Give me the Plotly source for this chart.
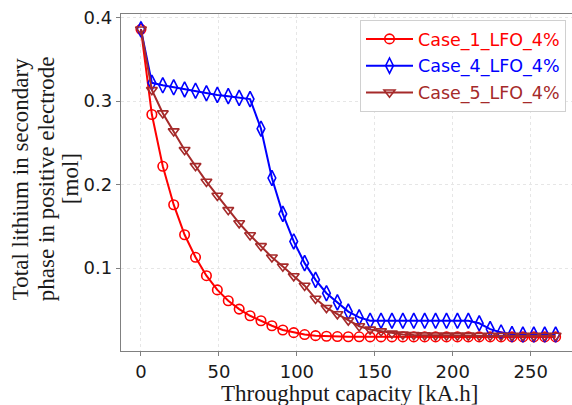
import plotly.graph_objects as go

# Throughput capacity [kA.h]
throughput = [0, 7, 14, 21, 28, 35, 42, 49, 56, 63, 70, 77, 84, 91, 98, 105,
              112, 119, 126, 133, 140, 147, 154, 161, 168, 175, 182, 189, 196,
              203, 210, 217, 224, 231, 238, 245, 252, 259, 266]

# Total lithium in secondary phase [mol]
case_1 = [0.386, 0.284, 0.222, 0.176, 0.140, 0.113, 0.091, 0.074, 0.061, 0.051,
          0.043, 0.037, 0.031, 0.026, 0.0228, 0.0205, 0.0192, 0.0185, 0.0181,
          0.0179, 0.0178, 0.0177, 0.0177, 0.0177, 0.0177, 0.0177, 0.0177,
          0.0177, 0.0177, 0.0177, 0.0177, 0.0177, 0.0177, 0.0177, 0.0177,
          0.0177, 0.0177, 0.0177, 0.0177]
case_4 = [0.386, 0.322, 0.319, 0.3166, 0.314, 0.3125, 0.3095, 0.3075, 0.306,
          0.304, 0.3025, 0.267, 0.208, 0.165, 0.132, 0.106, 0.086, 0.070, 0.059,
          0.048, 0.041, 0.037, 0.037, 0.037, 0.037, 0.037, 0.037, 0.037, 0.037,
          0.037, 0.037, 0.034, 0.027, 0.023, 0.021, 0.0205, 0.0205, 0.0205,
          0.0205]
case_5 = [0.386, 0.3134, 0.2855, 0.264, 0.2416, 0.2224, 0.2036, 0.1868, 0.1697,
          0.154, 0.1395, 0.1265, 0.113, 0.102, 0.0905, 0.079, 0.0635, 0.0525,
          0.045, 0.0375, 0.0305, 0.0265, 0.0245, 0.0218, 0.0205, 0.0200, 0.0197,
          0.0195, 0.0194, 0.0193, 0.0193, 0.0192, 0.0192, 0.0192, 0.0192,
          0.0192, 0.0192, 0.0192, 0.0192]

series_names = ["Case_1_LFO_4%", "Case_4_LFO_4%", "Case_5_LFO_4%"]
series_values = [case_1, case_4, case_5]
series_colors = ["#ff0000", "#0000ff", "#a52a2a"]
series_symbols = ["circle-open", "diamond-tall-open", "triangle-down-open"]
series_sizes = [9.5, 11, 9.5]

x_ticks = [0, 50, 100, 150, 200, 250]
y_ticks = [0.1, 0.2, 0.3, 0.4]

fig = go.Figure()
for name, vals, col, sym, sz in zip(series_names, series_values, series_colors,
                                    series_symbols, series_sizes):
    fig.add_trace(go.Scatter(
        x=throughput, y=vals, mode="lines+markers",
        name=f"<span style='color:{col}'>{name}</span>",
        legendgroup=name,
        line=dict(color=col, width=2),
        marker=dict(symbol=sym, size=sz, color=col, line=dict(width=1.6, color=col)),
    ))

axis_line = "#808080"
tick_font = dict(family="DejaVu Sans", size=18, color="#1a1a1a")
title_font = dict(family="Liberation Serif", size=23, color="#1a1a1a")

# Plot area in pixels
L, T, W, H = 121, 14, 451, 337

fig.update_layout(
    width=572, height=405,
    margin=dict(l=L, r=0, t=T, b=405 - T - H),
    paper_bgcolor="white", plot_bgcolor="white",
    showlegend=True,
    legend=dict(
        x=(360 - L) / W, y=1 - (20 - T) / H, xanchor="left", yanchor="top",
        bgcolor="white", bordercolor="#d0d0d0", borderwidth=1,
        font=dict(family="DejaVu Sans", size=17.5),
        tracegroupgap=1, itemwidth=47,
    ),
    xaxis=dict(
        range=[-12.8, 276.5], tickvals=x_ticks,
        showline=True, linecolor=axis_line, linewidth=1.3, mirror=True,
        ticks="outside", ticklen=4, tickcolor=axis_line,
        showgrid=True, gridcolor="#e6e6e6", griddash="dot", gridwidth=1,
        zeroline=False, tickfont=tick_font,
    ),
    yaxis=dict(
        range=[0.0008, 0.4044], tickvals=y_ticks, ticktext=["0.1", "0.2", "0.3", "0.4"],
        showline=True, linecolor=axis_line, linewidth=1.3, mirror=False,
        ticks="outside", ticklen=4, tickcolor=axis_line,
        showgrid=True, gridcolor="#e6e6e6", griddash="dot", gridwidth=1,
        zeroline=False, tickfont=tick_font,
    ),
)

# x-axis title
fig.add_annotation(
    text="Throughput capacity [kA.h]", showarrow=False,
    xref="paper", yref="paper", x=(349 - L) / W, y=-(393 - T - H) / H,
    xanchor="center", yanchor="middle", font=title_font,
)

# Three-line rotated y-axis title
y_title_lines = ["Total lithium in secondary", "phase in positive electrode", "[mol]"]
y_title_px = [20, 46, 70]
for text, px in zip(y_title_lines, y_title_px):
    fig.add_annotation(
        text=text, textangle=-90, showarrow=False,
        xref="paper", yref="paper", x=(px - L) / W, y=0.51,
        xanchor="center", yanchor="middle", font=title_font,
    )

fig.write_html("out.html")
